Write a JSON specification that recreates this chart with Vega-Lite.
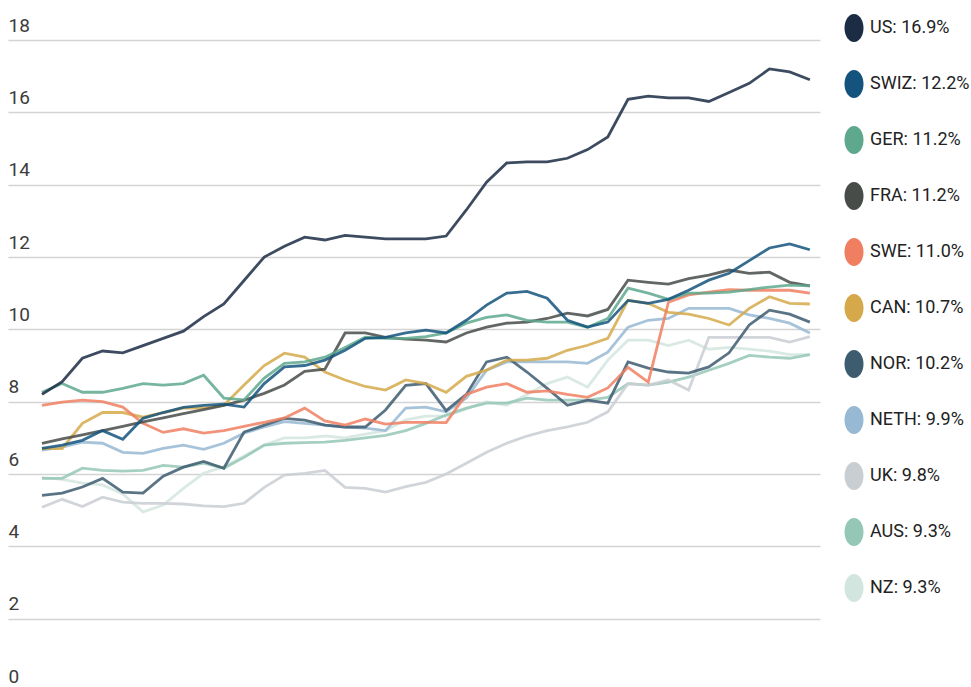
{
  "$schema": "https://vega.github.io/schema/vega-lite/v6.json",
  "width": 812,
  "height": 651,
  "autosize": {"type": "none"},
  "padding": {"left": 8, "top": 40, "right": 151, "bottom": 0},
  "background": "white",
  "config": {"view": {"stroke": null}, "font": "Roboto, sans-serif"},
  "data": {"values": [
    {"country":"NZ","year":1980,"pct":5.9},{"country":"NZ","year":1981,"pct":5.85},{"country":"NZ","year":1982,"pct":5.75},{"country":"NZ","year":1983,"pct":5.7},{"country":"NZ","year":1984,"pct":5.45},{"country":"NZ","year":1985,"pct":4.95},{"country":"NZ","year":1986,"pct":5.14},{"country":"NZ","year":1987,"pct":5.6},{"country":"NZ","year":1988,"pct":6.02},{"country":"NZ","year":1989,"pct":6.2},{"country":"NZ","year":1990,"pct":6.5},{"country":"NZ","year":1991,"pct":6.8},{"country":"NZ","year":1992,"pct":7.0},{"country":"NZ","year":1993,"pct":7.0},{"country":"NZ","year":1994,"pct":7.05},{"country":"NZ","year":1995,"pct":7.0},{"country":"NZ","year":1996,"pct":7.1},{"country":"NZ","year":1997,"pct":7.2},{"country":"NZ","year":1998,"pct":7.5},{"country":"NZ","year":1999,"pct":7.6},{"country":"NZ","year":2000,"pct":7.6},{"country":"NZ","year":2001,"pct":7.8},{"country":"NZ","year":2002,"pct":8.0},{"country":"NZ","year":2003,"pct":7.9},{"country":"NZ","year":2004,"pct":8.2},{"country":"NZ","year":2005,"pct":8.5},{"country":"NZ","year":2006,"pct":8.68},{"country":"NZ","year":2007,"pct":8.4},{"country":"NZ","year":2008,"pct":9.15},{"country":"NZ","year":2009,"pct":9.7},{"country":"NZ","year":2010,"pct":9.7},{"country":"NZ","year":2011,"pct":9.55},{"country":"NZ","year":2012,"pct":9.7},{"country":"NZ","year":2013,"pct":9.45},{"country":"NZ","year":2014,"pct":9.5},{"country":"NZ","year":2015,"pct":9.45},{"country":"NZ","year":2016,"pct":9.4},{"country":"NZ","year":2017,"pct":9.3},{"country":"NZ","year":2018,"pct":9.3},
    {"country":"AUS","year":1980,"pct":5.88},{"country":"AUS","year":1981,"pct":5.88},{"country":"AUS","year":1982,"pct":6.16},{"country":"AUS","year":1983,"pct":6.1},{"country":"AUS","year":1984,"pct":6.08},{"country":"AUS","year":1985,"pct":6.1},{"country":"AUS","year":1986,"pct":6.24},{"country":"AUS","year":1987,"pct":6.19},{"country":"AUS","year":1988,"pct":6.3},{"country":"AUS","year":1989,"pct":6.16},{"country":"AUS","year":1990,"pct":6.46},{"country":"AUS","year":1991,"pct":6.8},{"country":"AUS","year":1992,"pct":6.85},{"country":"AUS","year":1993,"pct":6.87},{"country":"AUS","year":1994,"pct":6.88},{"country":"AUS","year":1995,"pct":6.93},{"country":"AUS","year":1996,"pct":7.0},{"country":"AUS","year":1997,"pct":7.07},{"country":"AUS","year":1998,"pct":7.2},{"country":"AUS","year":1999,"pct":7.4},{"country":"AUS","year":2000,"pct":7.63},{"country":"AUS","year":2001,"pct":7.82},{"country":"AUS","year":2002,"pct":7.96},{"country":"AUS","year":2003,"pct":7.96},{"country":"AUS","year":2004,"pct":8.1},{"country":"AUS","year":2005,"pct":8.04},{"country":"AUS","year":2006,"pct":8.04},{"country":"AUS","year":2007,"pct":8.04},{"country":"AUS","year":2008,"pct":8.12},{"country":"AUS","year":2009,"pct":8.5},{"country":"AUS","year":2010,"pct":8.46},{"country":"AUS","year":2011,"pct":8.54},{"country":"AUS","year":2012,"pct":8.68},{"country":"AUS","year":2013,"pct":8.87},{"country":"AUS","year":2014,"pct":9.06},{"country":"AUS","year":2015,"pct":9.28},{"country":"AUS","year":2016,"pct":9.23},{"country":"AUS","year":2017,"pct":9.2},{"country":"AUS","year":2018,"pct":9.3},
    {"country":"UK","year":1980,"pct":5.08},{"country":"UK","year":1981,"pct":5.3},{"country":"UK","year":1982,"pct":5.1},{"country":"UK","year":1983,"pct":5.36},{"country":"UK","year":1984,"pct":5.22},{"country":"UK","year":1985,"pct":5.19},{"country":"UK","year":1986,"pct":5.19},{"country":"UK","year":1987,"pct":5.17},{"country":"UK","year":1988,"pct":5.12},{"country":"UK","year":1989,"pct":5.1},{"country":"UK","year":1990,"pct":5.19},{"country":"UK","year":1991,"pct":5.63},{"country":"UK","year":1992,"pct":5.97},{"country":"UK","year":1993,"pct":6.02},{"country":"UK","year":1994,"pct":6.1},{"country":"UK","year":1995,"pct":5.63},{"country":"UK","year":1996,"pct":5.6},{"country":"UK","year":1997,"pct":5.5},{"country":"UK","year":1998,"pct":5.65},{"country":"UK","year":1999,"pct":5.77},{"country":"UK","year":2000,"pct":6.0},{"country":"UK","year":2001,"pct":6.3},{"country":"UK","year":2002,"pct":6.6},{"country":"UK","year":2003,"pct":6.85},{"country":"UK","year":2004,"pct":7.05},{"country":"UK","year":2005,"pct":7.2},{"country":"UK","year":2006,"pct":7.3},{"country":"UK","year":2007,"pct":7.43},{"country":"UK","year":2008,"pct":7.72},{"country":"UK","year":2009,"pct":8.5},{"country":"UK","year":2010,"pct":8.46},{"country":"UK","year":2011,"pct":8.6},{"country":"UK","year":2012,"pct":8.32},{"country":"UK","year":2013,"pct":9.78},{"country":"UK","year":2014,"pct":9.78},{"country":"UK","year":2015,"pct":9.78},{"country":"UK","year":2016,"pct":9.78},{"country":"UK","year":2017,"pct":9.65},{"country":"UK","year":2018,"pct":9.8},
    {"country":"NETH","year":1980,"pct":6.66},{"country":"NETH","year":1981,"pct":6.74},{"country":"NETH","year":1982,"pct":6.88},{"country":"NETH","year":1983,"pct":6.85},{"country":"NETH","year":1984,"pct":6.6},{"country":"NETH","year":1985,"pct":6.57},{"country":"NETH","year":1986,"pct":6.71},{"country":"NETH","year":1987,"pct":6.8},{"country":"NETH","year":1988,"pct":6.68},{"country":"NETH","year":1989,"pct":6.85},{"country":"NETH","year":1990,"pct":7.13},{"country":"NETH","year":1991,"pct":7.3},{"country":"NETH","year":1992,"pct":7.45},{"country":"NETH","year":1993,"pct":7.4},{"country":"NETH","year":1994,"pct":7.35},{"country":"NETH","year":1995,"pct":7.3},{"country":"NETH","year":1996,"pct":7.27},{"country":"NETH","year":1997,"pct":7.2},{"country":"NETH","year":1998,"pct":7.82},{"country":"NETH","year":1999,"pct":7.85},{"country":"NETH","year":2000,"pct":7.72},{"country":"NETH","year":2001,"pct":8.1},{"country":"NETH","year":2002,"pct":8.87},{"country":"NETH","year":2003,"pct":9.1},{"country":"NETH","year":2004,"pct":9.1},{"country":"NETH","year":2005,"pct":9.1},{"country":"NETH","year":2006,"pct":9.1},{"country":"NETH","year":2007,"pct":9.06},{"country":"NETH","year":2008,"pct":9.37},{"country":"NETH","year":2009,"pct":10.06},{"country":"NETH","year":2010,"pct":10.25},{"country":"NETH","year":2011,"pct":10.3},{"country":"NETH","year":2012,"pct":10.58},{"country":"NETH","year":2013,"pct":10.58},{"country":"NETH","year":2014,"pct":10.58},{"country":"NETH","year":2015,"pct":10.4},{"country":"NETH","year":2016,"pct":10.3},{"country":"NETH","year":2017,"pct":10.17},{"country":"NETH","year":2018,"pct":9.9},
    {"country":"NOR","year":1980,"pct":5.41},{"country":"NOR","year":1981,"pct":5.47},{"country":"NOR","year":1982,"pct":5.64},{"country":"NOR","year":1983,"pct":5.88},{"country":"NOR","year":1984,"pct":5.5},{"country":"NOR","year":1985,"pct":5.47},{"country":"NOR","year":1986,"pct":5.94},{"country":"NOR","year":1987,"pct":6.19},{"country":"NOR","year":1988,"pct":6.35},{"country":"NOR","year":1989,"pct":6.16},{"country":"NOR","year":1990,"pct":7.16},{"country":"NOR","year":1991,"pct":7.35},{"country":"NOR","year":1992,"pct":7.54},{"country":"NOR","year":1993,"pct":7.49},{"country":"NOR","year":1994,"pct":7.35},{"country":"NOR","year":1995,"pct":7.3},{"country":"NOR","year":1996,"pct":7.3},{"country":"NOR","year":1997,"pct":7.77},{"country":"NOR","year":1998,"pct":8.45},{"country":"NOR","year":1999,"pct":8.5},{"country":"NOR","year":2000,"pct":7.75},{"country":"NOR","year":2001,"pct":8.2},{"country":"NOR","year":2002,"pct":9.1},{"country":"NOR","year":2003,"pct":9.23},{"country":"NOR","year":2004,"pct":8.82},{"country":"NOR","year":2005,"pct":8.37},{"country":"NOR","year":2006,"pct":7.9},{"country":"NOR","year":2007,"pct":8.04},{"country":"NOR","year":2008,"pct":7.96},{"country":"NOR","year":2009,"pct":9.1},{"country":"NOR","year":2010,"pct":8.93},{"country":"NOR","year":2011,"pct":8.82},{"country":"NOR","year":2012,"pct":8.79},{"country":"NOR","year":2013,"pct":8.96},{"country":"NOR","year":2014,"pct":9.35},{"country":"NOR","year":2015,"pct":10.12},{"country":"NOR","year":2016,"pct":10.53},{"country":"NOR","year":2017,"pct":10.42},{"country":"NOR","year":2018,"pct":10.2},
    {"country":"CAN","year":1980,"pct":6.7},{"country":"CAN","year":1981,"pct":6.7},{"country":"CAN","year":1982,"pct":7.4},{"country":"CAN","year":1983,"pct":7.7},{"country":"CAN","year":1984,"pct":7.7},{"country":"CAN","year":1985,"pct":7.57},{"country":"CAN","year":1986,"pct":7.7},{"country":"CAN","year":1987,"pct":7.82},{"country":"CAN","year":1988,"pct":7.82},{"country":"CAN","year":1989,"pct":7.9},{"country":"CAN","year":1990,"pct":8.46},{"country":"CAN","year":1991,"pct":9.0},{"country":"CAN","year":1992,"pct":9.34},{"country":"CAN","year":1993,"pct":9.23},{"country":"CAN","year":1994,"pct":8.82},{"country":"CAN","year":1995,"pct":8.6},{"country":"CAN","year":1996,"pct":8.42},{"country":"CAN","year":1997,"pct":8.32},{"country":"CAN","year":1998,"pct":8.6},{"country":"CAN","year":1999,"pct":8.5},{"country":"CAN","year":2000,"pct":8.26},{"country":"CAN","year":2001,"pct":8.7},{"country":"CAN","year":2002,"pct":8.87},{"country":"CAN","year":2003,"pct":9.15},{"country":"CAN","year":2004,"pct":9.15},{"country":"CAN","year":2005,"pct":9.2},{"country":"CAN","year":2006,"pct":9.42},{"country":"CAN","year":2007,"pct":9.56},{"country":"CAN","year":2008,"pct":9.75},{"country":"CAN","year":2009,"pct":10.8},{"country":"CAN","year":2010,"pct":10.72},{"country":"CAN","year":2011,"pct":10.47},{"country":"CAN","year":2012,"pct":10.42},{"country":"CAN","year":2013,"pct":10.3},{"country":"CAN","year":2014,"pct":10.12},{"country":"CAN","year":2015,"pct":10.58},{"country":"CAN","year":2016,"pct":10.9},{"country":"CAN","year":2017,"pct":10.72},{"country":"CAN","year":2018,"pct":10.7},
    {"country":"SWE","year":1980,"pct":7.9},{"country":"SWE","year":1981,"pct":7.99},{"country":"SWE","year":1982,"pct":8.04},{"country":"SWE","year":1983,"pct":8.0},{"country":"SWE","year":1984,"pct":7.85},{"country":"SWE","year":1985,"pct":7.4},{"country":"SWE","year":1986,"pct":7.15},{"country":"SWE","year":1987,"pct":7.25},{"country":"SWE","year":1988,"pct":7.13},{"country":"SWE","year":1989,"pct":7.2},{"country":"SWE","year":1990,"pct":7.32},{"country":"SWE","year":1991,"pct":7.43},{"country":"SWE","year":1992,"pct":7.55},{"country":"SWE","year":1993,"pct":7.82},{"country":"SWE","year":1994,"pct":7.47},{"country":"SWE","year":1995,"pct":7.35},{"country":"SWE","year":1996,"pct":7.52},{"country":"SWE","year":1997,"pct":7.38},{"country":"SWE","year":1998,"pct":7.43},{"country":"SWE","year":1999,"pct":7.43},{"country":"SWE","year":2000,"pct":7.42},{"country":"SWE","year":2001,"pct":8.2},{"country":"SWE","year":2002,"pct":8.4},{"country":"SWE","year":2003,"pct":8.5},{"country":"SWE","year":2004,"pct":8.26},{"country":"SWE","year":2005,"pct":8.3},{"country":"SWE","year":2006,"pct":8.2},{"country":"SWE","year":2007,"pct":8.12},{"country":"SWE","year":2008,"pct":8.38},{"country":"SWE","year":2009,"pct":8.95},{"country":"SWE","year":2010,"pct":8.54},{"country":"SWE","year":2011,"pct":10.75},{"country":"SWE","year":2012,"pct":10.95},{"country":"SWE","year":2013,"pct":11.03},{"country":"SWE","year":2014,"pct":11.1},{"country":"SWE","year":2015,"pct":11.08},{"country":"SWE","year":2016,"pct":11.08},{"country":"SWE","year":2017,"pct":11.08},{"country":"SWE","year":2018,"pct":11.0},
    {"country":"FRA","year":1980,"pct":6.85},{"country":"FRA","year":1981,"pct":6.97},{"country":"FRA","year":1982,"pct":7.08},{"country":"FRA","year":1983,"pct":7.2},{"country":"FRA","year":1984,"pct":7.32},{"country":"FRA","year":1985,"pct":7.44},{"country":"FRA","year":1986,"pct":7.55},{"country":"FRA","year":1987,"pct":7.67},{"country":"FRA","year":1988,"pct":7.78},{"country":"FRA","year":1989,"pct":7.9},{"country":"FRA","year":1990,"pct":8.04},{"country":"FRA","year":1991,"pct":8.23},{"country":"FRA","year":1992,"pct":8.46},{"country":"FRA","year":1993,"pct":8.84},{"country":"FRA","year":1994,"pct":8.9},{"country":"FRA","year":1995,"pct":9.9},{"country":"FRA","year":1996,"pct":9.9},{"country":"FRA","year":1997,"pct":9.78},{"country":"FRA","year":1998,"pct":9.73},{"country":"FRA","year":1999,"pct":9.7},{"country":"FRA","year":2000,"pct":9.65},{"country":"FRA","year":2001,"pct":9.9},{"country":"FRA","year":2002,"pct":10.06},{"country":"FRA","year":2003,"pct":10.17},{"country":"FRA","year":2004,"pct":10.2},{"country":"FRA","year":2005,"pct":10.3},{"country":"FRA","year":2006,"pct":10.45},{"country":"FRA","year":2007,"pct":10.37},{"country":"FRA","year":2008,"pct":10.55},{"country":"FRA","year":2009,"pct":11.36},{"country":"FRA","year":2010,"pct":11.3},{"country":"FRA","year":2011,"pct":11.25},{"country":"FRA","year":2012,"pct":11.4},{"country":"FRA","year":2013,"pct":11.5},{"country":"FRA","year":2014,"pct":11.64},{"country":"FRA","year":2015,"pct":11.55},{"country":"FRA","year":2016,"pct":11.58},{"country":"FRA","year":2017,"pct":11.3},{"country":"FRA","year":2018,"pct":11.2},
    {"country":"GER","year":1980,"pct":8.26},{"country":"GER","year":1981,"pct":8.5},{"country":"GER","year":1982,"pct":8.26},{"country":"GER","year":1983,"pct":8.26},{"country":"GER","year":1984,"pct":8.37},{"country":"GER","year":1985,"pct":8.5},{"country":"GER","year":1986,"pct":8.46},{"country":"GER","year":1987,"pct":8.5},{"country":"GER","year":1988,"pct":8.73},{"country":"GER","year":1989,"pct":8.1},{"country":"GER","year":1990,"pct":8.05},{"country":"GER","year":1991,"pct":8.65},{"country":"GER","year":1992,"pct":9.06},{"country":"GER","year":1993,"pct":9.1},{"country":"GER","year":1994,"pct":9.23},{"country":"GER","year":1995,"pct":9.5},{"country":"GER","year":1996,"pct":9.78},{"country":"GER","year":1997,"pct":9.75},{"country":"GER","year":1998,"pct":9.75},{"country":"GER","year":1999,"pct":9.8},{"country":"GER","year":2000,"pct":9.9},{"country":"GER","year":2001,"pct":10.17},{"country":"GER","year":2002,"pct":10.33},{"country":"GER","year":2003,"pct":10.4},{"country":"GER","year":2004,"pct":10.25},{"country":"GER","year":2005,"pct":10.2},{"country":"GER","year":2006,"pct":10.2},{"country":"GER","year":2007,"pct":10.06},{"country":"GER","year":2008,"pct":10.3},{"country":"GER","year":2009,"pct":11.14},{"country":"GER","year":2010,"pct":11.0},{"country":"GER","year":2011,"pct":10.83},{"country":"GER","year":2012,"pct":11.0},{"country":"GER","year":2013,"pct":11.0},{"country":"GER","year":2014,"pct":11.03},{"country":"GER","year":2015,"pct":11.1},{"country":"GER","year":2016,"pct":11.17},{"country":"GER","year":2017,"pct":11.22},{"country":"GER","year":2018,"pct":11.2},
    {"country":"SWIZ","year":1980,"pct":6.71},{"country":"SWIZ","year":1981,"pct":6.8},{"country":"SWIZ","year":1982,"pct":6.93},{"country":"SWIZ","year":1983,"pct":7.2},{"country":"SWIZ","year":1984,"pct":6.96},{"country":"SWIZ","year":1985,"pct":7.54},{"country":"SWIZ","year":1986,"pct":7.7},{"country":"SWIZ","year":1987,"pct":7.84},{"country":"SWIZ","year":1988,"pct":7.9},{"country":"SWIZ","year":1989,"pct":7.93},{"country":"SWIZ","year":1990,"pct":7.85},{"country":"SWIZ","year":1991,"pct":8.5},{"country":"SWIZ","year":1992,"pct":8.96},{"country":"SWIZ","year":1993,"pct":9.0},{"country":"SWIZ","year":1994,"pct":9.15},{"country":"SWIZ","year":1995,"pct":9.42},{"country":"SWIZ","year":1996,"pct":9.75},{"country":"SWIZ","year":1997,"pct":9.78},{"country":"SWIZ","year":1998,"pct":9.9},{"country":"SWIZ","year":1999,"pct":9.98},{"country":"SWIZ","year":2000,"pct":9.9},{"country":"SWIZ","year":2001,"pct":10.25},{"country":"SWIZ","year":2002,"pct":10.67},{"country":"SWIZ","year":2003,"pct":11.0},{"country":"SWIZ","year":2004,"pct":11.05},{"country":"SWIZ","year":2005,"pct":10.86},{"country":"SWIZ","year":2006,"pct":10.25},{"country":"SWIZ","year":2007,"pct":10.06},{"country":"SWIZ","year":2008,"pct":10.2},{"country":"SWIZ","year":2009,"pct":10.8},{"country":"SWIZ","year":2010,"pct":10.72},{"country":"SWIZ","year":2011,"pct":10.83},{"country":"SWIZ","year":2012,"pct":11.08},{"country":"SWIZ","year":2013,"pct":11.36},{"country":"SWIZ","year":2014,"pct":11.55},{"country":"SWIZ","year":2015,"pct":11.9},{"country":"SWIZ","year":2016,"pct":12.25},{"country":"SWIZ","year":2017,"pct":12.36},{"country":"SWIZ","year":2018,"pct":12.2},
    {"country":"US","year":1980,"pct":8.2},{"country":"US","year":1981,"pct":8.55},{"country":"US","year":1982,"pct":9.2},{"country":"US","year":1983,"pct":9.4},{"country":"US","year":1984,"pct":9.35},{"country":"US","year":1985,"pct":9.55},{"country":"US","year":1986,"pct":9.75},{"country":"US","year":1987,"pct":9.95},{"country":"US","year":1988,"pct":10.35},{"country":"US","year":1989,"pct":10.7},{"country":"US","year":1990,"pct":11.35},{"country":"US","year":1991,"pct":12.0},{"country":"US","year":1992,"pct":12.3},{"country":"US","year":1993,"pct":12.55},{"country":"US","year":1994,"pct":12.47},{"country":"US","year":1995,"pct":12.6},{"country":"US","year":1996,"pct":12.55},{"country":"US","year":1997,"pct":12.5},{"country":"US","year":1998,"pct":12.5},{"country":"US","year":1999,"pct":12.5},{"country":"US","year":2000,"pct":12.58},{"country":"US","year":2001,"pct":13.3},{"country":"US","year":2002,"pct":14.07},{"country":"US","year":2003,"pct":14.6},{"country":"US","year":2004,"pct":14.63},{"country":"US","year":2005,"pct":14.63},{"country":"US","year":2006,"pct":14.73},{"country":"US","year":2007,"pct":14.97},{"country":"US","year":2008,"pct":15.32},{"country":"US","year":2009,"pct":16.36},{"country":"US","year":2010,"pct":16.45},{"country":"US","year":2011,"pct":16.4},{"country":"US","year":2012,"pct":16.4},{"country":"US","year":2013,"pct":16.3},{"country":"US","year":2014,"pct":16.55},{"country":"US","year":2015,"pct":16.8},{"country":"US","year":2016,"pct":17.2},{"country":"US","year":2017,"pct":17.12},{"country":"US","year":2018,"pct":16.9}
  ]},
  "mark": {"type": "line", "strokeWidth": 2.8, "strokeOpacity": 0.85, "clip": false},
  "encoding": {
    "x": {"field": "year", "type": "quantitative", "scale": {"domain": [1978.32, 2018.5], "nice": false, "zero": false}, "axis": null},
    "y": {"field": "pct", "type": "quantitative",
      "scale": {"domain": [0, 18], "nice": false, "zero": true},
      "axis": {"values": [0, 2, 4, 6, 8, 10, 12, 14, 16, 18], "title": null, "domain": false, "ticks": false, "tickSize": 0,
        "labelAlign": "left", "labelBaseline": "alphabetic", "labelPadding": 0, "labelOffset": -9,
        "labelFontSize": 19, "labelColor": "#3c3c3c", "labelFont": "Roboto, sans-serif",
        "grid": true, "gridColor": "#d4d4d4", "gridWidth": 1.6}},
    "color": {"field": "country", "type": "nominal",
      "scale": {"domain": ["US", "SWIZ", "GER", "FRA", "SWE", "CAN", "NOR", "NETH", "UK", "AUS", "NZ"],
        "range": ["#1b2c44", "#13537d", "#5ea88d", "#474c49", "#f07f61", "#d5a94a", "#3d5c70", "#97b9d3", "#c9ced3", "#95c7b6", "#d3e5df"]},
      "legend": {"orient": "none", "legendX": 832, "legendY": -26, "title": null, "padding": 0,
        "symbolType": "M -0.68,0 A 0.68,1 0 1,0 0.68,0 A 0.68,1 0 1,0 -0.68,0 Z",
        "symbolSize": 784, "symbolOpacity": 1, "symbolStrokeWidth": 0,
        "labelFontSize": 18, "labelFont": "Roboto, sans-serif", "labelColor": "#222222",
        "labelOffset": 2, "rowPadding": 28, "labelLimit": 200,
        "labelExpr": "{'US': 'US: 16.9%', 'SWIZ': 'SWIZ: 12.2%', 'GER': 'GER: 11.2%', 'FRA': 'FRA: 11.2%', 'SWE': 'SWE: 11.0%', 'CAN': 'CAN: 10.7%', 'NOR': 'NOR: 10.2%', 'NETH': 'NETH: 9.9%', 'UK': 'UK: 9.8%', 'AUS': 'AUS: 9.3%', 'NZ': 'NZ: 9.3%'}[datum.label]",
        "encode": {"symbols": {"update": {"fill": {"scale": "color", "field": "value"}, "stroke": {"value": "transparent"}, "strokeWidth": {"value": 0}}}}}}
  }
}
